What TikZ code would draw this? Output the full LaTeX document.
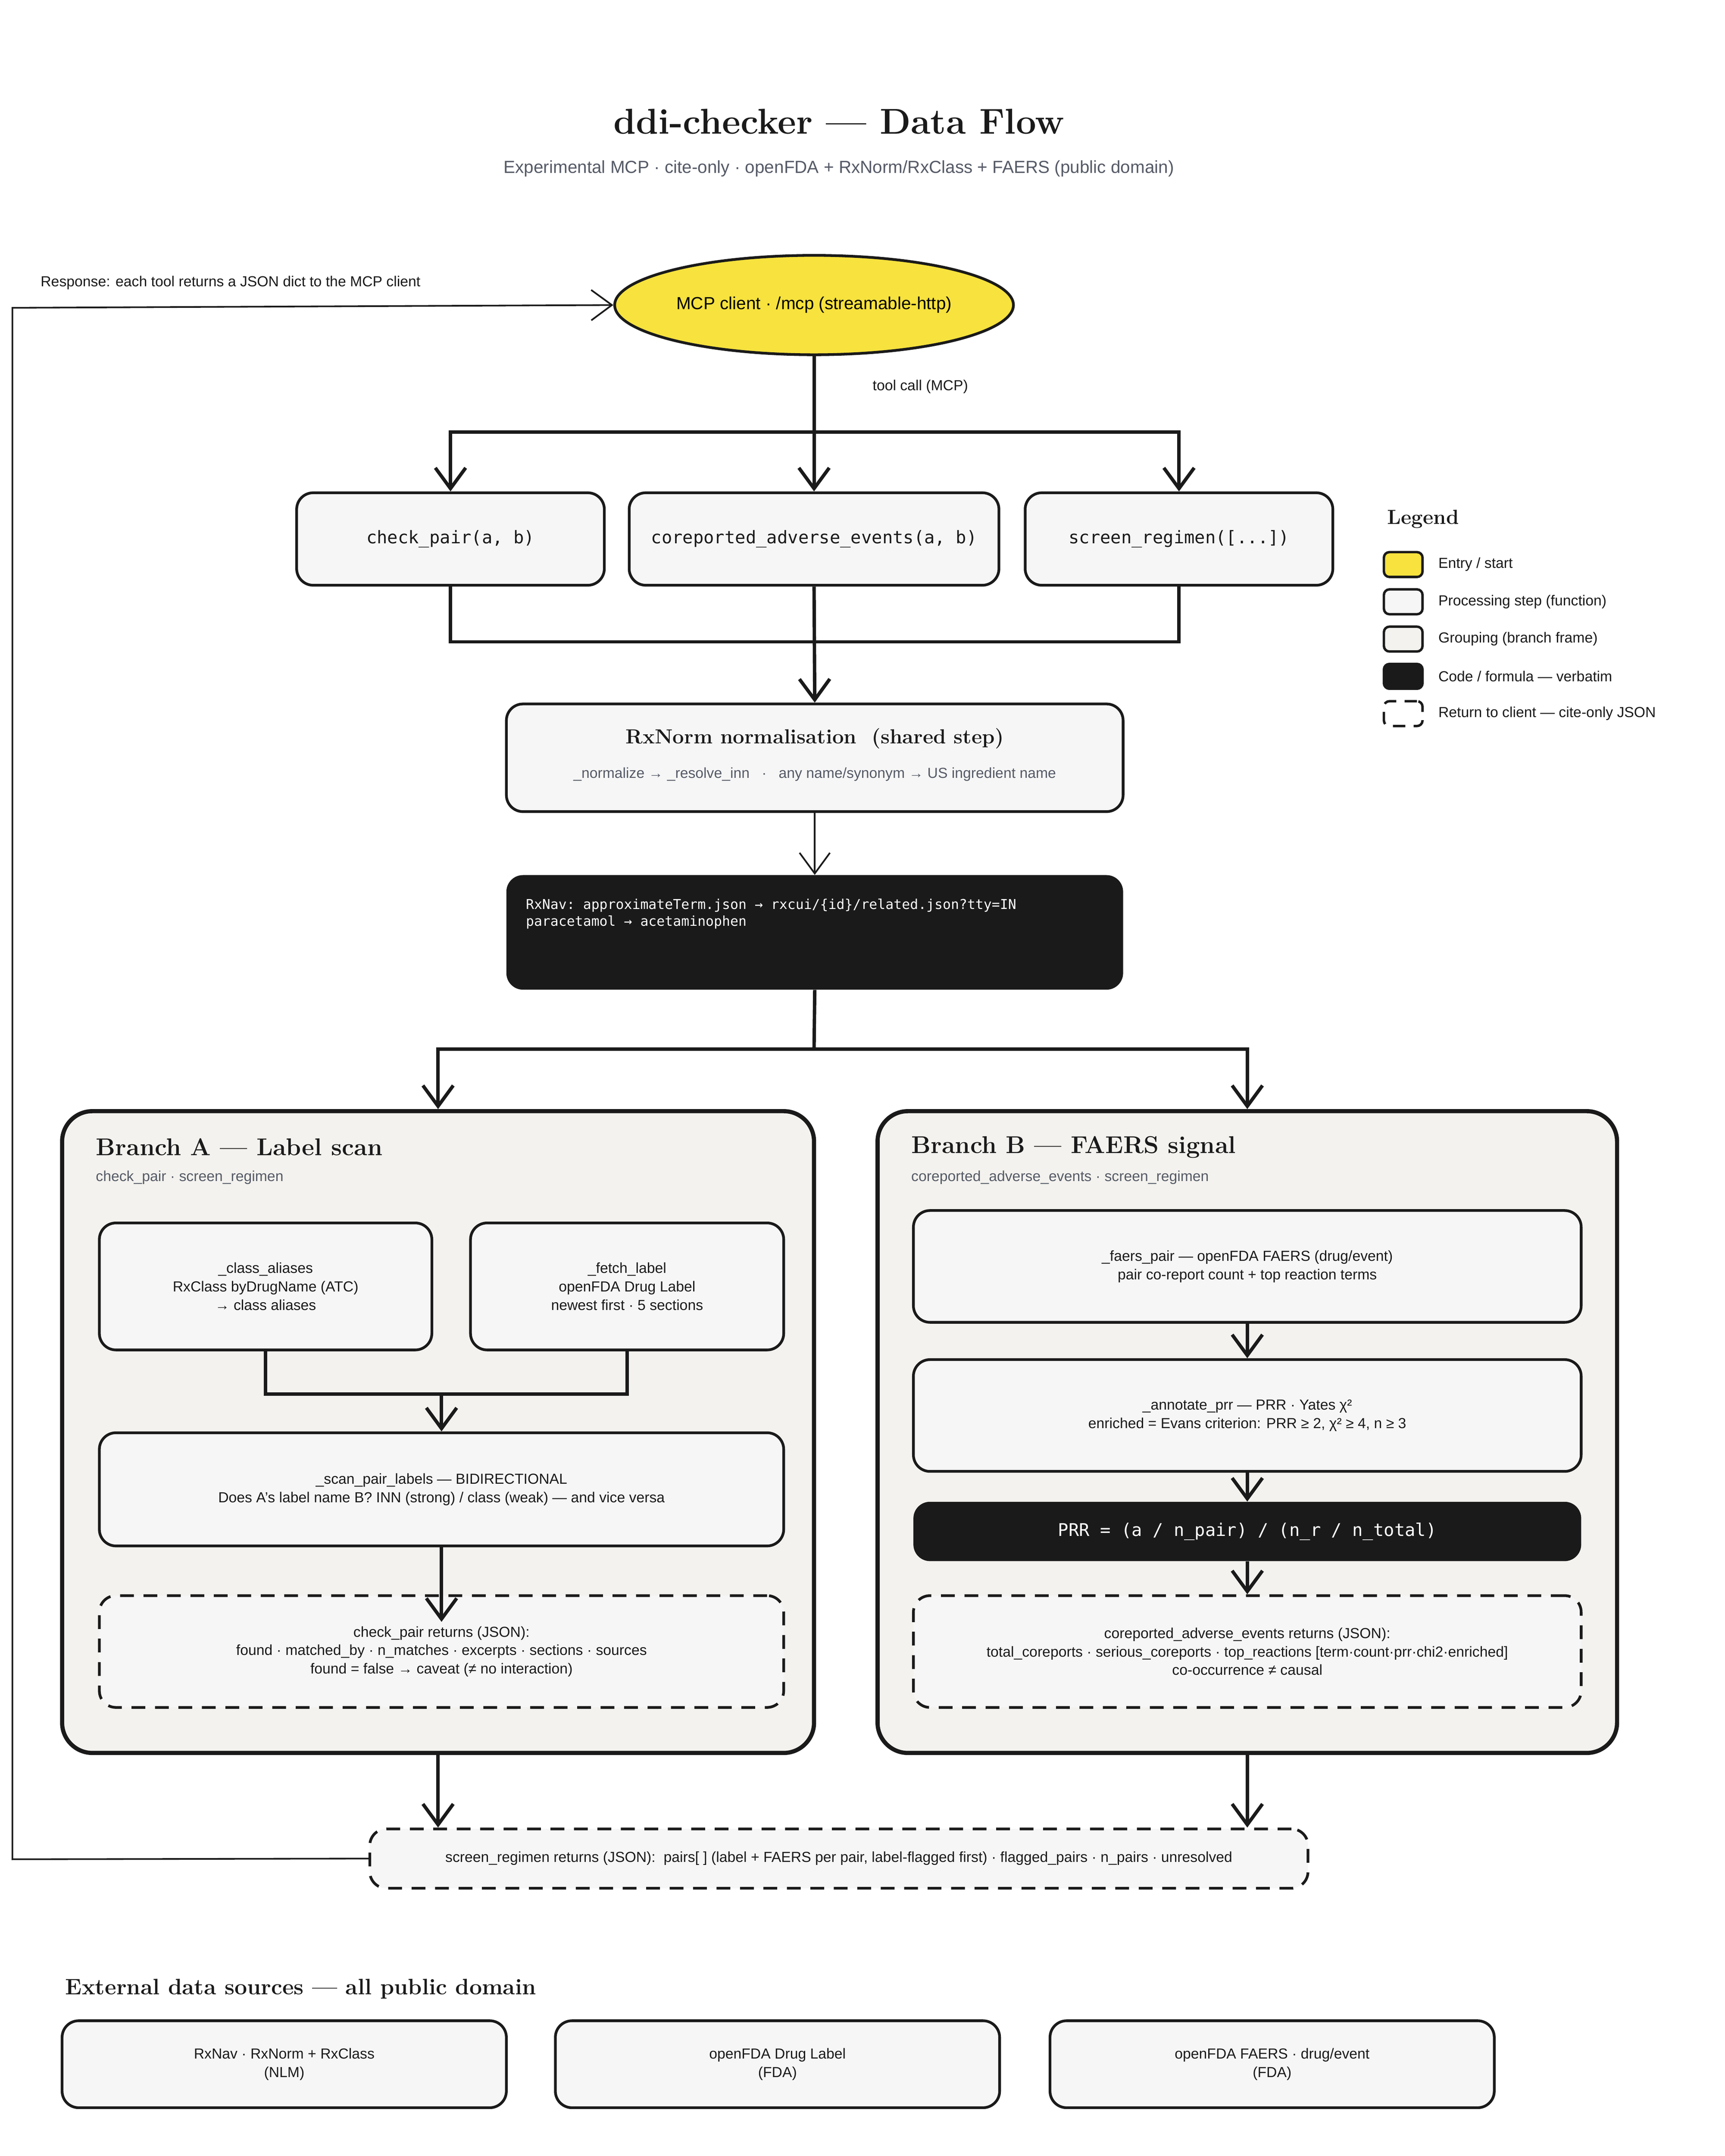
\documentclass[tikz,border=0pt]{standalone}
\usepackage{fontspec}
\setsansfont{Liberation Sans}
\setmonofont{DejaVu Sans Mono}
\usetikzlibrary{arrows.meta,shapes.geometric}
\definecolor{entry}{HTML}{F7E23E}
\definecolor{step}{HTML}{F6F6F6}
\definecolor{frame}{HTML}{F3F2EE}
\definecolor{ink}{HTML}{1A1A1A}
\definecolor{muted}{HTML}{555A66}
\tikzset{
  box/.style={draw=ink, line width=2.8pt, fill=step, rounded corners=0.6cm, inner sep=0pt, align=center, font=\sffamily\fontsize{15}{19}\selectfont, text=ink},
  fn/.style={box, font=\ttfamily\fontsize{18}{22}\selectfont},
  code/.style={fill=ink, rounded corners=0.6cm, inner sep=0pt, text=white},
  ret/.style={box, dash pattern=on 0.5cm off 0.35cm},
  grp/.style={draw=ink, line width=4.3pt, fill=frame, rounded corners=1.1cm, inner sep=0pt},
  head/.style={font=\rmfamily\bfseries\fontsize{25}{30}\selectfont, text=ink, anchor=west},
  sub/.style={font=\sffamily\fontsize{15}{19}\selectfont, text=muted, anchor=west},
  lbl/.style={font=\sffamily\fontsize{15}{19}\selectfont, text=ink, anchor=west},
  flow/.style={draw=ink, line width=3.5pt, -{Straight Barb[length=0.75cm,width=1.1cm,line width=3.5pt]}},
  line/.style={draw=ink, line width=3.5pt},
  thin/.style={draw=ink, line width=1.7pt, -{Straight Barb[length=0.75cm,width=1.1cm,line width=1.7pt]}},
  swatch/.style={draw=ink, line width=2.5pt, rounded corners=0.2cm, minimum width=1.4cm, minimum height=0.9cm, inner sep=0pt}
}
\begin{document}
\begin{tikzpicture}[x=0.05cm,y=-0.05cm]
\useasboundingbox[fill=white] (0,0) rectangle (1250,1562);
% title
\node[font=\rmfamily\bfseries\fontsize{37}{44}\selectfont, text=ink] (title) at (608,88) {ddi-checker — Data Flow};
\node[font=\sffamily\fontsize{18}{22}\selectfont, text=muted] (subtitle) at (608,122) {Experimental MCP · cite-only · openFDA + RxNorm/RxClass + FAERS (public domain)};
% entry
\node[ellipse, draw=ink, line width=2.8pt, fill=entry, minimum width=14.3cm, minimum height=3.6cm, font=\sffamily\fontsize{18}{22}\selectfont] (mcp) at (590,221) {MCP client · /mcp (streamable-http)};
\node[lbl] (resp) at (27,205) {Response: each tool returns a JSON dict to the MCP client};
\node[lbl] (call) at (630,280) {tool call (MCP)};
% tools
\node[fn, minimum width=11.15cm, minimum height=3.35cm] (chk) at (326.5,390.5) {check\_pair(a, b)};
\node[fn, minimum width=13.4cm, minimum height=3.35cm] (cor) at (590,390.5) {coreported\_adverse\_events(a, b)};
\node[fn, minimum width=11.15cm, minimum height=3.35cm] (scr) at (854.5,390.5) {screen\_regimen([...])};
\coordinate (split1) at (590,313);
\draw[line] (mcp.south) -- (split1);
\draw[flow] (split1) -| (chk.north);
\draw[flow] (split1) -- (cor.north);
\draw[flow] (split1) -| (scr.north);
% normalisation
\node[box, minimum width=22.35cm, minimum height=3.9cm] (rxn) at (590.5,549) {};
\node[font=\rmfamily\bfseries\fontsize{21}{25}\selectfont, text=ink] (rxnt) at (590.5,535) {RxNorm normalisation\ \ (shared step)};
\node[font=\sffamily\fontsize{15}{19}\selectfont, text=muted] (rxns) at (590.5,561) {\_normalize → \_resolve\_inn \ \ · \ \ any name/synonym → US ingredient name};
\coordinate (join1) at (590,465);
\draw[line] (chk.south) |- (join1);
\draw[line] (scr.south) |- (join1);
\draw[flow] (cor.south) -- (rxn.north);
\node[code, minimum width=22.35cm, minimum height=4.15cm] (nav) at (590.5,675.5) {};
\node[font=\ttfamily\fontsize{14}{17.5}\selectfont, text=white, anchor=north west, align=left, inner sep=0pt] (navt) at (381,651) {RxNav: approximateTerm.json → rxcui/\{id\}/related.json?tty=IN\\paracetamol → acetaminophen};
\draw[thin] (rxn.south) -- (nav.north);
% branch frames
\node[grp, minimum width=27.25cm, minimum height=23.25cm] (brA) at (317.5,1037.5) {};
\node[grp, minimum width=26.8cm, minimum height=23.25cm] (brB) at (904,1037.5) {};
\coordinate (split2) at (590,760);
\draw[line] (nav.south) -- (split2);
\draw[flow] (split2) -| (brA.north);
\draw[flow] (split2) -| (brB.north);
\node[head] (hA) at (67,831) {Branch A — Label scan};
\node[sub] (sA) at (67,853) {check\_pair · screen\_regimen};
\node[head] (hB) at (658,831) {Branch B — FAERS signal};
\node[sub] (sB) at (658,853) {coreported\_adverse\_events · screen\_regimen};
% branch A
\node[box, minimum width=12.05cm, minimum height=4.6cm] (cls) at (192.5,932) {\_class\_aliases\\RxClass byDrugName (ATC)\\→ class aliases};
\node[box, minimum width=11.35cm, minimum height=4.6cm] (fet) at (454.5,932) {\_fetch\_label\\openFDA Drug Label\\newest first · 5 sections};
\node[box, minimum width=24.8cm, minimum height=4.1cm] (scan) at (320,1079) {\_scan\_pair\_labels — BIDIRECTIONAL\\Does A's label name B? INN (strong) / class (weak) — and vice versa};
\node[ret, minimum width=24.8cm, minimum height=4.05cm] (retA) at (320,1196.5) {check\_pair returns (JSON):\\found · matched\_by · n\_matches · excerpts · sections · sources\\found = false → caveat (≠ no interaction)};
\coordinate (join2) at (320,1010);
\draw[line] (cls.south) |- (join2);
\draw[line] (fet.south) |- (join2);
\draw[flow] (join2) -- (scan.north);
\coordinate (retAin) at (320,1175);
\draw[flow] (scan.south) -- (retAin);
% branch B
\node[box, minimum width=24.2cm, minimum height=4.05cm] (faers) at (904,917.5) {\_faers\_pair — openFDA FAERS (drug/event)\\pair co-report count + top reaction terms};
\node[box, minimum width=24.2cm, minimum height=4.05cm] (ann) at (904,1025.5) {\_annotate\_prr — PRR · Yates χ²\\enriched = Evans criterion: PRR ≥ 2, χ² ≥ 4, n ≥ 3};
\node[code, minimum width=24.2cm, minimum height=2.15cm, font=\ttfamily\fontsize{18}{22}\selectfont] (prr) at (904,1109.5) {PRR = (a / n\_pair) / (n\_r / n\_total)};
\node[ret, minimum width=24.2cm, minimum height=4.05cm] (retB) at (904,1196.5) {coreported\_adverse\_events returns (JSON):\\total\_coreports · serious\_coreports · top\_reactions [term·count·prr·chi2·enriched]\\co-occurrence ≠ causal};
\draw[flow] (faers.south) -- (ann.north);
\draw[flow] (ann.south) -- (prr.north);
\draw[flow] (prr.south) -- (retB.north);
% regimen result
\node[ret, minimum width=34cm, minimum height=2.15cm] (reg) at (608,1346.5) {screen\_regimen returns (JSON):\ \ pairs[ ] (label + FAERS per pair, label-flagged first) · flagged\_pairs · n\_pairs · unresolved};
\draw[flow] (brA.south) -- (brA.south |- reg.north);
\draw[flow] (brB.south) -- (brB.south |- reg.north);
\coordinate (back1) at (9,1347);
\coordinate (back2) at (9,223);
\draw[line, -{Straight Barb[length=0.75cm,width=1.1cm,line width=1.7pt]}, line width=1.7pt] (reg.west) -- (back1) -- (back2) -- (mcp.west);
% sources
\node[font=\rmfamily\bfseries\fontsize{23}{28}\selectfont, text=ink, anchor=west] (extt) at (45,1441) {External data sources — all public domain};
\node[box, minimum width=16.1cm, minimum height=3.15cm] (ext1) at (206,1495.5) {RxNav · RxNorm + RxClass\\(NLM)};
\node[box, minimum width=16.1cm, minimum height=3.15cm] (ext2) at (563.5,1495.5) {openFDA Drug Label\\(FDA)};
\node[box, minimum width=16.1cm, minimum height=3.15cm] (ext3) at (922,1495.5) {openFDA FAERS · drug/event\\(FDA)};
% legend
\node[font=\rmfamily\bfseries\fontsize{21}{25}\selectfont, text=ink, anchor=west] (leg) at (1003,376) {Legend};
\node[swatch, fill=entry] (l1) at (1017,409) {};
\node[lbl] at (1040,409) {Entry / start};
\node[swatch, fill=step] (l2) at (1017,436) {};
\node[lbl] at (1040,436) {Processing step (function)};
\node[swatch, fill=frame] (l3) at (1017,463) {};
\node[lbl] at (1040,463) {Grouping (branch frame)};
\node[swatch, fill=ink] (l4) at (1017,490) {};
\node[lbl] at (1040,490) {Code / formula — verbatim};
\node[swatch, fill=white, dash pattern=on 0.45cm off 0.3cm] (l5) at (1017,517) {};
\node[lbl] at (1040,517) {Return to client — cite-only JSON};
\end{tikzpicture}
\end{document}
